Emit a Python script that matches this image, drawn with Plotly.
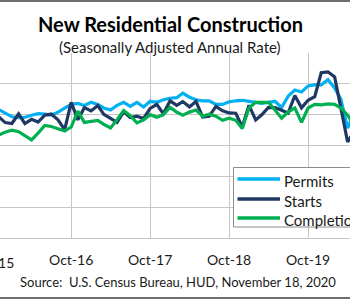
import pandas as pd
import plotly.graph_objects as go

# ---------------- data (thousands of units, SAAR) ----------------
months = pd.date_range("2015-10-01", "2020-05-01", freq="MS")

permits = [1250, 1250, 1215,
           1180, 1170, 1175, 1195, 1210, 1205, 1195, 1225, 1260, 1300, 1310, 1290,
           1320, 1300, 1265, 1245, 1290, 1320, 1280, 1320, 1275, 1330, 1320, 1345,
           1360, 1365, 1410, 1370, 1345, 1335, 1335, 1300, 1300, 1325, 1335, 1340,
           1330, 1320, 1310, 1320, 1330, 1270, 1380, 1440, 1420, 1480, 1490, 1490,
           1540, 1460, 1350, 1070, 1220]

starts = [1072, 1179, 1123,
          1114, 1208, 1113, 1155, 1128, 1195, 1206, 1150, 1054, 1320, 1150, 1268,
          1236, 1288, 1203, 1164, 1125, 1228, 1172, 1185, 1163, 1261, 1299, 1209,
          1334, 1290, 1327, 1276, 1329, 1177, 1184, 1280, 1237, 1217, 1214, 1080,
          1291, 1149, 1199, 1270, 1269, 1243, 1215, 1386, 1266, 1340, 1375, 1608,
          1617, 1567, 1269, 934, 1038]

completions = [990, 1000, 1030,
               1050, 1035, 1000, 955, 1020, 1095, 1085, 1060, 1040, 1080, 1235, 1125,
               1135, 1145, 1105, 1070, 1150, 1240, 1190, 1120, 1150, 1200, 1175, 1200,
               1270, 1225, 1195, 1225, 1245, 1185, 1205, 1185, 1145, 1165, 1145, 1065,
               1265, 1320, 1320, 1320, 1245, 1165, 1225, 1265, 1125, 1265, 1300, 1295,
               1305, 1300, 1265, 1195, 1100]

series_names = ["Permits", "Starts", "Completions"]
series_colors = ["#00B0F0", "#203864", "#00B050"]
tick_dates = ["2015-10-01", "2016-10-01", "2017-10-01", "2018-10-01", "2019-10-01"]
tick_labels = ["Oct-15", "Oct-16", "Oct-17", "Oct-18", "Oct-19"]
y_ticks = [0, 300, 600, 900, 1200, 1500, 1800]

title_text = "New Residential Construction"
subtitle_text = "(Seasonally Adjusted Annual Rate)"
source_text = "Source:  U.S. Census Bureau, HUD, November 18, 2020"

# ---------------- layout geometry ----------------
W, H = 350, 300
M_T, M_B = 53, 62
PLOT_H = H - M_T - M_B
x_range = [pd.Timestamp("2015-11-07"), pd.Timestamp("2020-04-12")]
FONT = "Lato"
TXT = "#1a1a1a"
GRID = "#C6C6C6"


def px_x(px):
    return px / W


def px_y(py):
    return (H - M_B - py) / PLOT_H


def date_paper(d):
    d = pd.Timestamp(d)
    return (d - x_range[0]) / (x_range[1] - x_range[0])


fig = go.Figure()
for name, vals, col in zip(series_names, [permits, starts, completions], series_colors):
    fig.add_trace(go.Scatter(x=months, y=vals, mode="lines", name=name,
                             line=dict(color=col, width=3.2), showlegend=False))

fig.update_layout(
    width=W, height=H,
    margin=dict(l=0, r=0, t=M_T, b=M_B, autoexpand=False),
    paper_bgcolor="white", plot_bgcolor="white",
    font=dict(family=FONT, color=TXT),
    xaxis=dict(type="date", range=x_range, tickmode="array",
               tickvals=tick_dates, ticktext=tick_labels,
               showgrid=True, gridcolor=GRID, gridwidth=1.3,
               showline=True, linecolor=GRID, linewidth=1.3,
               ticks="", tickfont=dict(size=14, family=FONT, color=TXT),
               ticklabelstandoff=9, zeroline=False),
    yaxis=dict(range=[0, 1800], tickmode="array", tickvals=y_ticks,
               showgrid=True, gridcolor=GRID, gridwidth=1.3,
               showticklabels=False, zeroline=False, ticks=""),
    showlegend=False,
)

ann = []
ann.append(dict(text=f"<b>{title_text}</b>", x=px_x(170), y=px_y(24), xref="paper", yref="paper",
                showarrow=False, xanchor="center", yanchor="middle",
                font=dict(size=20, family=FONT, color="#000000")))
ann.append(dict(text=subtitle_text, x=px_x(170), y=px_y(47), xref="paper", yref="paper",
                showarrow=False, xanchor="center", yanchor="middle",
                font=dict(size=15, family=FONT, color=TXT)))
ann.append(dict(text=source_text, x=px_x(177.5), y=px_y(282), xref="paper", yref="paper",
                showarrow=False, xanchor="center", yanchor="middle",
                font=dict(size=13, family=FONT, color=TXT)))
# first tick label, whose date lies just left of the visible axis range
ann.append(dict(text=tick_labels[0], x=date_paper(tick_dates[0]), y=px_y(262), xref="paper", yref="paper",
                showarrow=False, xanchor="center", yanchor="middle",
                font=dict(size=14, family=FONT, color=TXT)))

shapes = []
# chart frame lines (top / bottom)
shapes.append(dict(type="line", xref="paper", yref="paper", x0=-0.05, x1=1.05,
                   y0=px_y(1), y1=px_y(1), line=dict(color="#6E6E6E", width=2), layer="above"))
shapes.append(dict(type="line", xref="paper", yref="paper", x0=-0.05, x1=1.05,
                   y0=px_y(298), y1=px_y(298), line=dict(color="#6E6E6E", width=2), layer="above"))
# legend box
shapes.append(dict(type="rect", xref="paper", yref="paper", x0=px_x(233.5), x1=px_x(420),
                   y0=px_y(227), y1=px_y(167.5), line=dict(color="#8C8C8C", width=1),
                   fillcolor="white", layer="above"))
row_y = [179, 199, 218]
for name, col, ry in zip(series_names, series_colors, row_y):
    shapes.append(dict(type="line", xref="paper", yref="paper", x0=px_x(237.5), x1=px_x(280),
                       y0=px_y(ry), y1=px_y(ry), line=dict(color=col, width=3.5), layer="above"))
    ann.append(dict(text=name, x=px_x(282), y=px_y(ry + 2), xref="paper", yref="paper",
                    showarrow=False, xanchor="left", yanchor="middle",
                    font=dict(size=15, family=FONT, color=TXT)))

fig.update_layout(annotations=ann, shapes=shapes)
fig.write_html("out.html")
